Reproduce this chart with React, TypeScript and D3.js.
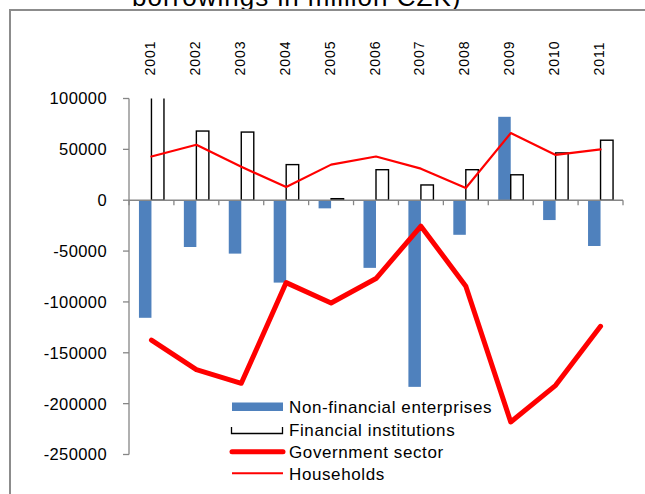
import React from "react";
import * as d3 from "d3";

const years = ["2001","2002","2003","2004","2005","2006","2007","2008","2009","2010","2011"];
const nonFinancial = [-115600,-46000,-52500,-81000,-8000,-66500,-183500,-34000,82000,-19500,-45000];
const financial = [130000,68000,67000,35000,1500,30000,15000,30000,25000,46500,59000];
const government = [-137500,-166500,-180000,-81000,-101000,-77000,-25500,-84500,-218000,-182000,-124000];
const households = [43000,54500,32800,13000,35000,43000,31000,12000,66000,44500,50000];
const yTicks = [100000,50000,0,-50000,-100000,-150000,-200000,-250000];
const legendLabels = ["Non-financial enterprises","Financial institutions","Government sector","Households"];
const title = "borrowings in million CZK)";

const W = 645, H = 494;
const FONT = "'Liberation Sans', Arial, sans-serif";
const AXIS = "#868686";
const BLUE = "#4F81BD";
const RED = "#FF0000";

export default function App() {
  const x0 = 129, x1 = 623, yTop = 98.5, yBot = 454.5;
  const y = d3.scaleLinear().domain([-250000, 100000]).range([yBot, yTop]);
  const x = d3.scaleBand<string>().domain(years).range([x0, x1]).paddingInner(0.443).paddingOuter(0.2215);
  const sub = d3.scaleBand<string>().domain(["nfe", "fin"]).range([0, x.bandwidth()]);
  const step = x.step();
  const cx = (yr: string) => (x(yr) as number) + x.bandwidth() / 2;
  const line = d3.line<number>().x((_, i) => cx(years[i])).y((v) => y(v));
  const y0 = y(0);

  return (
    <svg width={W} height={H} style={{ position: "absolute", left: 0, top: 0, background: "#fff" }} fontFamily={FONT}>
      <defs>
        <clipPath id="plot">
          <rect x={x0} y={yTop} width={x1 - x0} height={yBot - yTop} />
        </clipPath>
      </defs>
      <rect x={0} y={0} width={W} height={H} fill="#fff" />
      {/* title (clipped at top, as in the reference) */}
      <text x={132} y={6} fontSize={26} letterSpacing={1} fill="#000">{title}</text>
      {/* frame */}
      <rect x={10} y={10} width={W + 20} height={H + 20} fill="none" stroke="#8c8c8c" strokeWidth={2} />

      {/* bars */}
      <g clipPath="url(#plot)">
        {years.map((yr, i) => {
          const v = nonFinancial[i];
          return (
            <rect key={"n" + yr} x={(x(yr) as number) + (sub("nfe") as number)} width={sub.bandwidth()}
              y={Math.min(y(v), y0)} height={Math.abs(y(v) - y0)} fill={BLUE} />
          );
        })}
        {years.map((yr, i) => {
          const v = financial[i];
          return (
            <rect key={"f" + yr} x={(x(yr) as number) + (sub("fin") as number)} width={sub.bandwidth()}
              y={Math.min(y(v), y0)} height={Math.abs(y(v) - y0)} fill="#fff" stroke="#000" strokeWidth={1.4} />
          );
        })}
      </g>

      {/* y axis */}
      <line x1={x0} x2={x0} y1={yTop} y2={yBot} stroke={AXIS} strokeWidth={1.3} />
      {yTicks.map((t) => (
        <g key={t}>
          <line x1={x0 - 6} x2={x0} y1={y(t)} y2={y(t)} stroke={AXIS} strokeWidth={1.3} />
          <text x={107} y={y(t)} dy="0.36em" textAnchor="end" fontSize={16.5} letterSpacing={0.4} fill="#000">{t}</text>
        </g>
      ))}
      {/* x axis at zero */}
      <line x1={x0} x2={x1} y1={y0} y2={y0} stroke={AXIS} strokeWidth={1.5} />
      {d3.range(years.length + 1).map((k) => (
        <line key={k} x1={x0 + k * step} x2={x0 + k * step} y1={y0} y2={y0 + 5} stroke={AXIS} strokeWidth={1.3} />
      ))}
      {/* year labels at top */}
      {years.map((yr) => (
        <text key={yr} transform={`translate(${cx(yr) - 1.5},75.5) rotate(-90)`} dy="0.36em" fontSize={14} letterSpacing={1} fill="#000">{yr}</text>
      ))}

      {/* lines */}
      <path d={line(government) as string} fill="none" stroke={RED} strokeWidth={5} strokeLinejoin="round" strokeLinecap="round" />
      <path d={line(households) as string} fill="none" stroke={RED} strokeWidth={2.2} strokeLinejoin="round" strokeLinecap="round" />

      {/* legend */}
      <g>
        <rect x={232} y={402.5} width={51} height={8.5} fill={BLUE} />
        <path d="M231.5,427 V433.5 H282.5 V427" fill="none" stroke="#000" strokeWidth={1.3} />
        <line x1={232} x2={283} y1={451.8} y2={451.8} stroke={RED} strokeWidth={5} strokeLinecap="round" />
        <line x1={232} x2={283} y1={473.3} y2={473.3} stroke={RED} strokeWidth={2} />
        {legendLabels.map((l, i) => (
          <text key={l} x={289} y={[406.7, 429.5, 452.3, 474][i]} dy="0.36em" fontSize={17} letterSpacing={0.6} fill="#000">{l}</text>
        ))}
      </g>
    </svg>
  );
}
